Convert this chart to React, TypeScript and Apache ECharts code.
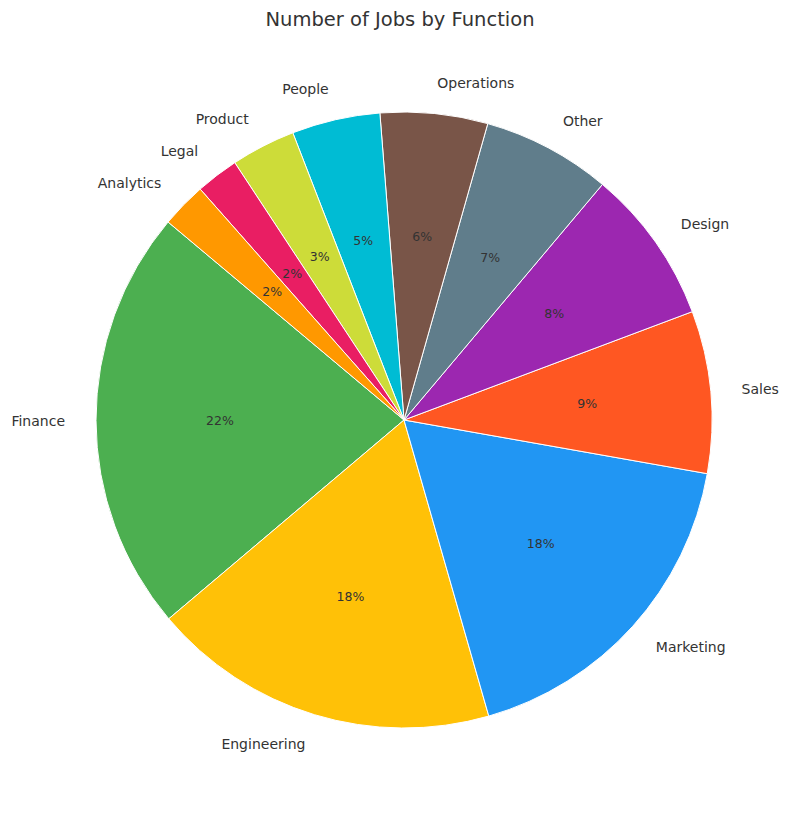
import React, { useEffect, useRef } from "react";
import * as echarts from "echarts";

const categories = ["Finance", "Engineering", "Marketing", "Sales", "Design", "Other", "Operations", "People", "Product", "Legal", "Analytics"];
const values = [178, 146, 142, 68, 65, 54, 45, 37, 27, 18, 19];
const colors = ["#4CAF50", "#FFC107", "#2196F3", "#FF5722", "#9C27B0", "#607D8B", "#795548", "#00BCD4", "#CDDC39", "#E91E63", "#FF9800"];
const title = "Number of Jobs by Function";

export default function App() {
  const ref = useRef<HTMLDivElement>(null);
  useEffect(() => {
    document.body.style.margin = "0";
    if (!ref.current) return;
    const chart = echarts.init(ref.current, undefined, { renderer: "svg" });
    const total = values.reduce((a, b) => a + b, 0);
    const R = 308;
    const center = [404, 420];
    const font = "DejaVu Sans";
    const data = categories.map((name, i) => ({ name, value: values[i], itemStyle: { color: colors[i] } }));
    chart.setOption({
      animation: false,
      backgroundColor: "#ffffff",
      title: {
        text: title,
        left: "center",
        top: 4,
        textStyle: { fontFamily: font, fontSize: 19.5, fontWeight: "normal", color: "#333333" },
      },
      series: [
        {
          type: "pie",
          center,
          radius: [0, R],
          startAngle: 140,
          clockwise: false,
          avoidLabelOverlap: false,
          silent: true,
          itemStyle: { borderColor: "#ffffff", borderWidth: 1 },
          label: {
            show: true,
            position: "outside",
            fontFamily: font,
            fontSize: 14,
            color: "#333333",
            distanceToLabelLine: 0,
            formatter: "{b}",
          },
          labelLine: { show: false, length: 31, length2: 0 },
          emphasis: { disabled: true },
          data,
        },
        {
          type: "pie",
          center,
          radius: [54, R],
          startAngle: 140,
          clockwise: false,
          avoidLabelOverlap: false,
          silent: true,
          itemStyle: { color: "transparent", borderWidth: 0 },
          label: {
            show: true,
            position: "inside",
            fontFamily: font,
            fontSize: 12.5,
            color: "#333333",
            formatter: (p: any) => Math.round((p.value / total) * 100) + "%",
          },
          labelLine: { show: false },
          emphasis: { disabled: true },
          data: categories.map((name, i) => ({ name, value: values[i] })),
        },
      ],
    });
    return () => chart.dispose();
  }, []);
  return <div ref={ref} style={{ width: 800, height: 816 }} />;
}
